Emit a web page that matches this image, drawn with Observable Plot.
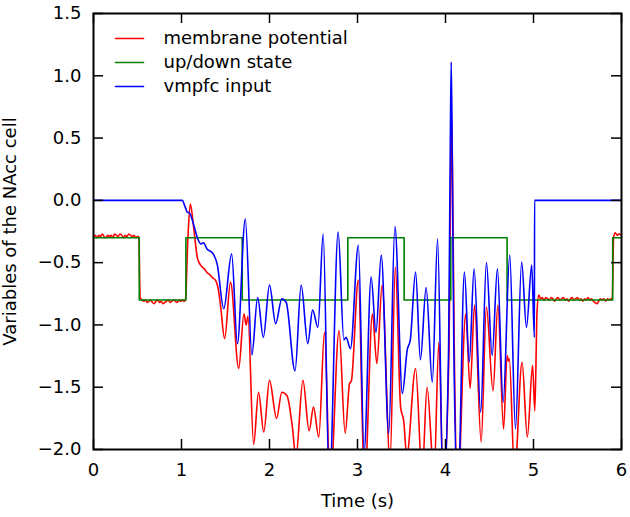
<!DOCTYPE html>
<html>
<head>
<meta charset="utf-8">
<script src="https://cdn.jsdelivr.net/npm/d3@7"></script>
<script src="https://cdn.jsdelivr.net/npm/@observablehq/plot@0.6"></script>
<style>
  html, body { margin: 0; padding: 0; background: white; }
  #chart { width: 630px; height: 517px; }
</style>
</head>
<body>
<div id="chart"></div>
<script>
// ---------- data ----------
const xTicks = [0, 1, 2, 3, 4, 5, 6];
const yTicks = [-2, -1.5, -1, -0.5, 0, 0.5, 1, 1.5];
const seriesNames = ["membrane potential", "up/down state", "vmpfc input"];
const seriesColors = ["#ff0000", "#008000", "#0000ff"];

// up/down state (step function)
const stateTime  = [0, 0.52, 1.05, 1.69, 2.89, 3.53, 4.06, 4.70, 5.90, 6.0];
const stateValue = [-0.3, -0.8, -0.3, -0.8, -0.3, -0.8, -0.3, -0.8, -0.3, -0.3];

// membrane potential [time, value]
const membranePoints = [
  [0, -0.29], [0.02, -0.28], [0.04, -0.30], [0.06, -0.28], [0.08, -0.29], [0.10, -0.27],
  [0.12, -0.29], [0.14, -0.30], [0.16, -0.28], [0.18, -0.29], [0.20, -0.28], [0.22, -0.30],
  [0.24, -0.27], [0.26, -0.28], [0.28, -0.29], [0.30, -0.27], [0.32, -0.28], [0.34, -0.30],
  [0.36, -0.28], [0.38, -0.29], [0.40, -0.27], [0.42, -0.28], [0.44, -0.29], [0.46, -0.28],
  [0.48, -0.30], [0.50, -0.29], [0.515, -0.29],
  [0.53, -0.78], [0.55, -0.80], [0.57, -0.81], [0.59, -0.80], [0.61, -0.82], [0.63, -0.81],
  [0.65, -0.80], [0.67, -0.82], [0.69, -0.83], [0.71, -0.81], [0.73, -0.80], [0.75, -0.82],
  [0.77, -0.81], [0.79, -0.83], [0.81, -0.82], [0.83, -0.81], [0.85, -0.80], [0.87, -0.82],
  [0.89, -0.81], [0.91, -0.80], [0.93, -0.81], [0.95, -0.82], [0.97, -0.80], [0.99, -0.81],
  [1.01, -0.80], [1.03, -0.81], [1.045, -0.80],
  [1.07, -0.35], [1.10, -0.03], [1.14, -0.23], [1.18, -0.46], [1.20, -0.50], [1.235, -0.535],
  [1.26, -0.55], [1.29, -0.58], [1.31, -0.59], [1.35, -0.62], [1.386, -0.64], [1.415, -0.70],
  [1.443, -0.84], [1.49, -1.11], [1.557, -0.656], [1.65, -1.35], [1.71, -0.91], [1.735, -1.00],
  [1.755, -0.93], [1.82, -1.96], [1.875, -1.54], [1.935, -1.86], [2.00, -1.445], [2.08, -1.75],
  [2.14, -1.54], [2.20, -1.57], [2.26, -1.82], [2.30, -2.06], [2.38, -1.445], [2.45, -1.85],
  [2.50, -1.66], [2.56, -1.90], [2.625, -1.06], [2.69, -2.3], [2.79, -1.045], [2.86, -1.87],
  [2.91, -1.47], [2.93, -1.45], [3.01, -0.64], [3.08, -2.3], [3.17, -0.91], [3.22, -1.31],
  [3.28, -0.68], [3.37, -2.1], [3.43, -0.535], [3.49, -1.66], [3.525, -1.77], [3.56, -2.05],
  [3.66, -1.35], [3.735, -2.2], [3.79, -1.50], [3.87, -2.2], [3.925, -1.14], [3.975, -2.3],
  [4.04, -1.2], [4.06, 0.2], [4.07, 0.67], [4.08, 0.2], [4.10, -1.2], [4.14, -2.3],
  [4.23, -0.91], [4.28, -1.51], [4.33, -0.84], [4.405, -1.94], [4.465, -0.857], [4.54, -1.53],
  [4.595, -0.84], [4.66, -1.835], [4.70, -1.245], [4.715, -1.29], [4.725, -1.27], [4.785, -2.2],
  [4.87, -1.30], [4.93, -1.90], [4.99, -1.325], [5.015, -1.69],
  [5.04, -0.90], [5.06, -0.76], [5.08, -0.79], [5.10, -0.78], [5.12, -0.80], [5.14, -0.78],
  [5.16, -0.79], [5.18, -0.80], [5.20, -0.78], [5.22, -0.79], [5.24, -0.81], [5.26, -0.79],
  [5.28, -0.78], [5.30, -0.80], [5.32, -0.79], [5.34, -0.78], [5.36, -0.80], [5.38, -0.79],
  [5.40, -0.81], [5.42, -0.79], [5.44, -0.78], [5.46, -0.80], [5.48, -0.79], [5.50, -0.78],
  [5.52, -0.80], [5.54, -0.79], [5.56, -0.81], [5.58, -0.79], [5.60, -0.80], [5.62, -0.78],
  [5.64, -0.80], [5.66, -0.79], [5.68, -0.81], [5.70, -0.82], [5.72, -0.83], [5.74, -0.81],
  [5.76, -0.79], [5.78, -0.80], [5.80, -0.79], [5.82, -0.81], [5.84, -0.79], [5.86, -0.80],
  [5.88, -0.79], [5.895, -0.80],
  [5.91, -0.30], [5.93, -0.26], [5.95, -0.28], [5.97, -0.27], [6.0, -0.28]
];

// vmpfc input [time, value]
const vmpfcPoints = [
  [0, 0], [1.008, 0], [1.04, -0.05], [1.065, -0.094], [1.09, -0.10], [1.14, -0.20],
  [1.18, -0.30], [1.22, -0.35], [1.25, -0.34], [1.29, -0.39], [1.33, -0.41], [1.36, -0.43],
  [1.405, -0.51], [1.48, -0.87], [1.57, -0.43], [1.635, -1.15], [1.725, -0.15], [1.80, -1.24],
  [1.865, -0.78], [1.93, -1.10], [2.00, -0.68], [2.07, -0.99], [2.14, -0.79], [2.19, -0.82],
  [2.29, -1.37], [2.36, -0.68], [2.435, -1.15], [2.49, -0.88], [2.55, -1.02], [2.61, -0.27],
  [2.68, -2.3], [2.78, -0.255], [2.845, -1.12], [2.87, -1.10], [2.92, -1.19], [3.01, -0.36],
  [3.075, -2.02], [3.155, -0.615], [3.21, -1.06], [3.27, -0.44], [3.355, -1.87], [3.425, -0.21],
  [3.51, -1.55], [3.565, -1.2], [3.60, -1.12], [3.66, -0.575], [3.715, -1.28], [3.78, -0.70],
  [3.85, -1.46], [3.91, -0.31], [3.975, -2.4], [4.035, -1.2], [4.055, 0.5], [4.065, 1.11],
  [4.075, 0.5], [4.095, -1.2], [4.14, -2.4], [4.215, -0.575], [4.27, -1.30], [4.325, -0.55],
  [4.40, -1.70], [4.465, -0.50], [4.53, -1.245], [4.59, -0.55], [4.655, -1.62], [4.73, -0.44],
  [4.795, -1.835], [4.865, -0.495], [4.92, -1.02], [4.98, -0.52], [5.01, -1.10], [5.012, 0],
  [6.0, 0]
];

// ---------- build tables ----------
const membrane = membranePoints.map(([t, v]) => ({t, v}));
const vmpfc = vmpfcPoints.map(([t, v]) => ({t, v}));
const state = stateTime.map((t, i) => ({t, v: stateValue[i]}));

const W = 630, H = 517, ML = 93, MR = 9, MT = 13, MB = 68;
const innerW = W - ML - MR, innerH = H - MT - MB;
const tickLen = 10;
const tickStyle = {stroke: "black", strokeWidth: 1.5};

const lineShape = {draw(context, l) { context.moveTo(0, 0); context.lineTo(0, -l); }};
const legendMarks = seriesNames.flatMap((name, i) => [
  Plot.vector([name], {frameAnchor: "top-left", dx: 22, dy: 25 + 24 * i, rotate: 90, length: 28,
    anchor: "start", shape: lineShape, stroke: seriesColors[i], strokeWidth: 1.6}),
  Plot.text([name], {frameAnchor: "top-left", dx: 70, dy: 25 + 24 * i, text: d => d,
    textAnchor: "start", lineAnchor: "middle", fill: "black", fontSize: 18})
]);

const chart = Plot.plot({
  width: W,
  height: H,
  marginLeft: ML,
  marginRight: MR,
  marginTop: MT,
  marginBottom: MB,
  style: {fontFamily: "'DejaVu Sans', sans-serif", fontSize: "18px", color: "black", background: "white"},
  x: {domain: [0, 6]},
  y: {domain: [-2, 1.5]},
  marks: [
    Plot.line(membrane, {x: "t", y: "v", stroke: seriesColors[0], strokeWidth: 1.6, curve: "monotone-x"}),
    Plot.line(state, {x: "t", y: "v", stroke: seriesColors[1], strokeWidth: 1.6, curve: "step-after"}),
    Plot.line(vmpfc, {x: "t", y: "v", stroke: seriesColors[2], strokeWidth: 1.6, curve: "monotone-x"}),
    // white band below the plot area hides the parts of the lines that fall below -2
    Plot.frame({fill: "white", stroke: "none", insetTop: innerH, insetBottom: -MB, insetLeft: -ML, insetRight: -MR}),
    Plot.frame({stroke: "black", strokeWidth: 2}),
    Plot.ruleX(xTicks, {x: d => d, insetTop: innerH - tickLen, ...tickStyle}),
    Plot.ruleX(xTicks, {x: d => d, insetBottom: innerH - tickLen, ...tickStyle}),
    Plot.ruleY(yTicks, {y: d => d, insetRight: innerW - tickLen, ...tickStyle}),
    Plot.ruleY(yTicks, {y: d => d, insetLeft: innerW - tickLen, ...tickStyle}),
    Plot.axisX({ticks: xTicks, tickSize: 0, tickPadding: 14, tickFormat: d => String(d),
      label: "Time (s)", labelAnchor: "center", labelOffset: 57, labelArrow: "none"}),
    Plot.axisY({ticks: yTicks, tickSize: 0, tickPadding: 12, tickFormat: d3.format(".1f"),
      label: "Variables of the NAcc cell", labelAnchor: "center", labelOffset: 90, labelArrow: "none"}),
    ...legendMarks
  ]
});
document.getElementById("chart").appendChild(chart);
</script>
</body>
</html>
